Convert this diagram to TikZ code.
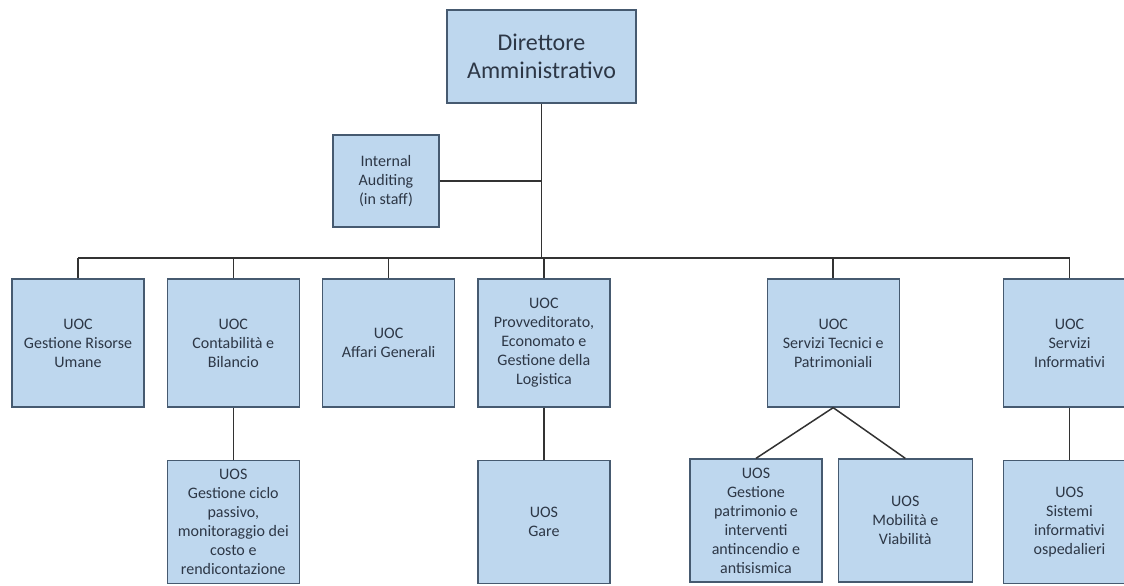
\documentclass[tikz,border=0pt]{standalone}
\usepackage{fontspec}
\setsansfont{Carlito}
\usetikzlibrary{positioning}
\definecolor{boxfill}{RGB}{190,215,238}
\definecolor{boxline}{RGB}{70,90,112}
\definecolor{boxtext}{RGB}{45,55,70}
\definecolor{wire}{RGB}{50,50,50}

\begin{document}
\begin{tikzpicture}[
    node distance=22pt and 22pt,
    unit/.style={
        rectangle,
        draw=boxline,
        fill=boxfill,
        line width=1.3pt,
        text=boxtext,
        minimum width=132pt,
        minimum height=128pt,
        inner sep=2pt,
        align=center,
        font=\sffamily\fontsize{16}{19}\selectfont
    },
    subunit/.style={
        unit,
        minimum height=123pt
    },
    head/.style={
        unit,
        minimum width=189pt,
        minimum height=93pt,
        font=\sffamily\fontsize{24}{28.5}\selectfont
    },
    staff/.style={
        unit,
        minimum width=106pt,
        minimum height=92pt
    },
    link/.style={
        draw=wire,
        line width=1.5pt
    }
]
    \useasboundingbox (0,0) rectangle (1124pt,-586pt);
    \clip (0,0) rectangle (1124pt,-586pt);

    % Nodes
    \node [head] (direttore) at (541.5pt,-56.5pt) {Direttore\\Amministrativo};
    \node [staff] (auditing) at (386pt,-181pt) {Internal\\Auditing\\(in staff)};

    \node [unit] (risorse) at (78pt,-343pt) {UOC\\Gestione Risorse\\Umane};
    \node [unit, right=of risorse] (contabilita) {UOC\\Contabilità e\\Bilancio};
    \node [unit, right=of contabilita] (affari) {UOC\\Affari Generali};
    \node [unit, right=of affari] (provveditorato) {UOC\\Provveditorato,\\Economato e\\Gestione della\\Logistica};
    \node [unit, right=156pt of provveditorato] (tecnici) {UOC\\Servizi Tecnici e\\Patrimoniali};
    \node [unit, right=103pt of tecnici] (informativi) {UOC\\Servizi\\Informativi};

    \node [subunit, below=52pt of contabilita] (ciclo) {UOS\\Gestione ciclo\\passivo,\\monitoraggio dei\\costo e\\rendicontazione};
    \node [subunit, below=52pt of provveditorato] (gare) {UOS\\Gare};
    \node [subunit] (patrimonio) at (756pt,-520.5pt) {UOS\\Gestione\\patrimonio e\\interventi\\antincendio e\\antisismica};
    \node [subunit, minimum width=134pt, right=15pt of patrimonio] (mobilita) {UOS\\Mobilità e\\Viabilità};
    \node [subunit, below=52pt of informativi] (sistemi) {UOS\\Sistemi\\informativi\\ospedalieri};

    % Lines
    \coordinate (bus) at (0,-258pt);
    \draw [link] (direttore.south) -- (direttore.south |- bus);
    \draw [link] (auditing.east) -- (auditing.east -| direttore.south);
    \draw [link] (risorse.north |- bus) -- (informativi.north |- bus);
    \foreach \u in {risorse,contabilita,affari,provveditorato,tecnici,informativi}
        \draw [link] (\u.north |- bus) -- (\u.north);

    \draw [link] (contabilita) -- (ciclo);
    \draw [link] (provveditorato) -- (gare);
    \draw [link] (tecnici.south) -- (patrimonio.north);
    \draw [link] (tecnici.south) -- (mobilita.north);
    \draw [link] (informativi) -- (sistemi);
\end{tikzpicture}
\end{document}
